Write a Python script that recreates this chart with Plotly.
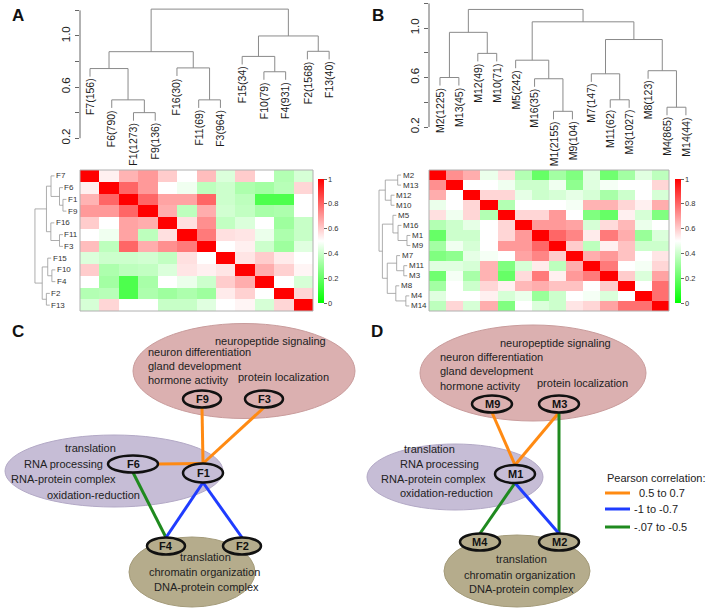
import plotly.graph_objects as go

W, H = 709, 615
FONT = "Liberation Sans, Arial, Helvetica, sans-serif"
TXT = "#222222"

# ---------------- data: panel A ----------------
modules_A = ["F7", "F6", "F1", "F9", "F16", "F11", "F3", "F15", "F10", "F4", "F2", "F13"]
sizes_A = [156, 790, 1273, 136, 30, 69, 964, 34, 79, 931, 1568, 40]
# (left, right, height); ints refer to earlier merges
merges_A = [("F1", "F9", 0.40), ("F6", 0, 0.50), ("F7", 1, 0.745), ("F11", "F3", 0.50),
            ("F16", 3, 0.75), (2, 4, 0.877), ("F10", "F4", 0.72), ("F15", 6, 0.84),
            ("F2", "F13", 0.88), (7, 8, 1.00), (5, 9, 1.21)]
corr_A = [
    [1.00, 0.53, 0.65, 0.70, 0.60, 0.50, 0.63, 0.43, 0.60, 0.50, 0.35, 0.42],
    [0.53, 1.00, 0.80, 0.70, 0.50, 0.47, 0.37, 0.40, 0.34, 0.32, 0.36, 0.58],
    [0.65, 0.80, 1.00, 0.80, 0.68, 0.68, 0.80, 0.40, 0.37, 0.15, 0.15, 0.50],
    [0.70, 0.70, 0.80, 1.00, 0.66, 0.37, 0.66, 0.41, 0.38, 0.33, 0.34, 0.50],
    [0.60, 0.50, 0.68, 0.66, 1.00, 0.56, 0.72, 0.38, 0.43, 0.50, 0.31, 0.39],
    [0.50, 0.47, 0.68, 0.37, 0.56, 1.00, 0.76, 0.56, 0.55, 0.46, 0.34, 0.39],
    [0.63, 0.37, 0.80, 0.66, 0.72, 0.76, 1.00, 0.50, 0.53, 0.40, 0.31, 0.44],
    [0.43, 0.40, 0.40, 0.41, 0.38, 0.56, 0.50, 1.00, 0.55, 0.60, 0.54, 0.50],
    [0.60, 0.34, 0.37, 0.38, 0.43, 0.55, 0.53, 0.55, 1.00, 0.66, 0.59, 0.52],
    [0.50, 0.32, 0.15, 0.33, 0.50, 0.46, 0.40, 0.60, 0.66, 1.00, 0.50, 0.42],
    [0.35, 0.36, 0.15, 0.34, 0.31, 0.34, 0.31, 0.54, 0.59, 0.50, 1.00, 0.58],
    [0.42, 0.58, 0.50, 0.50, 0.39, 0.39, 0.44, 0.50, 0.52, 0.42, 0.58, 1.00],
]

# ---------------- data: panel B ----------------
modules_B = ["M2", "M13", "M12", "M10", "M5", "M16", "M1", "M9", "M7", "M11", "M3", "M8", "M4", "M14"]
sizes_B = [1225, 45, 49, 71, 242, 35, 2155, 104, 147, 62, 1027, 123, 865, 44]
merges_B = [("M2", "M13", 0.60), ("M12", "M10", 0.795), (0, 1, 0.965), ("M1", "M9", 0.327),
            ("M16", 3, 0.59), ("M5", 4, 0.74), ("M11", "M3", 0.42), ("M7", 6, 0.63),
            ("M4", "M14", 0.36), ("M8", 8, 0.655), (7, 9, 0.907), (5, 10, 1.05), (2, 11, 1.15)]
corr_B = [
    [1.00, 0.72, 0.66, 0.46, 0.56, 0.35, 0.20, 0.32, 0.25, 0.44, 0.22, 0.32, 0.44, 0.37],
    [0.72, 1.00, 0.50, 0.50, 0.47, 0.40, 0.40, 0.47, 0.28, 0.44, 0.48, 0.50, 0.50, 0.58],
    [0.66, 0.50, 1.00, 0.58, 0.58, 0.45, 0.40, 0.42, 0.45, 0.42, 0.33, 0.40, 0.50, 0.42],
    [0.46, 0.50, 0.58, 1.00, 0.35, 0.50, 0.50, 0.50, 0.48, 0.65, 0.65, 0.58, 0.53, 0.66],
    [0.56, 0.47, 0.58, 0.35, 1.00, 0.58, 0.58, 0.70, 0.50, 0.25, 0.20, 0.53, 0.42, 0.25],
    [0.35, 0.40, 0.45, 0.50, 0.58, 1.00, 0.70, 0.70, 0.68, 0.42, 0.57, 0.64, 0.46, 0.50],
    [0.20, 0.40, 0.40, 0.50, 0.58, 0.70, 1.00, 0.80, 0.74, 0.54, 0.76, 0.66, 0.30, 0.43],
    [0.32, 0.47, 0.42, 0.50, 0.70, 0.70, 0.80, 1.00, 0.60, 0.37, 0.53, 0.62, 0.40, 0.40],
    [0.25, 0.28, 0.45, 0.48, 0.50, 0.68, 0.74, 0.60, 1.00, 0.66, 0.70, 0.62, 0.50, 0.55],
    [0.44, 0.44, 0.42, 0.65, 0.25, 0.42, 0.54, 0.37, 0.66, 1.00, 0.76, 0.50, 0.48, 0.58],
    [0.22, 0.48, 0.33, 0.65, 0.20, 0.57, 0.76, 0.53, 0.70, 0.76, 1.00, 0.60, 0.43, 0.68],
    [0.32, 0.50, 0.40, 0.58, 0.53, 0.64, 0.66, 0.62, 0.62, 0.50, 0.60, 1.00, 0.50, 0.78],
    [0.44, 0.50, 0.50, 0.53, 0.42, 0.46, 0.30, 0.40, 0.50, 0.48, 0.43, 0.50, 1.00, 0.78],
    [0.37, 0.58, 0.42, 0.66, 0.25, 0.50, 0.43, 0.40, 0.55, 0.58, 0.68, 0.78, 0.78, 1.00],
]
scale_ticks = [0, 0.2, 0.4, 0.6, 0.8, 1]
dendro_ticks = [0.2, 0.6, 1.0]
dendro_minor = [0.4, 0.8, 1.2]

# ---------------- data: panels C / D ----------------
terms_top = ["neuropeptide signaling", "neuron differentiation", "gland development",
             "hormone activity", "protein localization"]
terms_mid = ["translation", "RNA processing", "RNA-protein complex", "oxidation-reduction"]
terms_bot = ["translation", "chromatin organization", "DNA-protein complex"]
corr_classes = ["0.5 to 0.7", "-1 to -0.7", "-.07 to -0.5"]
class_colors = ["#ff8a12", "#1f3cff", "#1f8a1f"]
edges_C = [("F9", "F1", 0), ("F3", "F1", 0), ("F6", "F1", 0), ("F6", "F4", 2), ("F1", "F4", 1), ("F1", "F2", 1)]
edges_D = [("M9", "M1", 0), ("M3", "M1", 0), ("M3", "M2", 2), ("M1", "M4", 2), ("M1", "M2", 1)]

# ---------------- diagram geometry (pixels) ----------------
region_style = {"pink": ("#dbb0b0", "#c99c9c"), "purple": ("#c6bdd6", "#b3a9c6"), "olive": ("#b5ac8c", "#a49b7a")}
regions_C = [("pink", 244, 371, 111, 47.5), ("purple", 114, 471, 109, 36), ("olive", 192, 572, 63, 35)]
regions_D = [("pink", 533, 373, 113, 48), ("purple", 455, 477, 88, 33), ("olive", 517, 571, 73, 36)]
nodes_C = {"F9": (202, 399, 19, 8.5, "pink"), "F3": (264, 399, 19, 8.5, "pink"),
           "F6": (133, 464, 25, 8.5, "purple"), "F1": (203, 473, 20, 9.5, "purple"),
           "F4": (166, 546, 19, 8.5, "olive"), "F2": (242, 546, 19, 8.5, "olive")}
nodes_D = {"M9": (492, 404, 20, 8.5, "pink"), "M3": (559, 404, 20, 8.5, "pink"),
           "M1": (515, 474, 20, 9, "purple"), "M4": (480, 542, 20, 8.5, "olive"),
           "M2": (559, 542, 20, 8.5, "olive")}
text_C = [(terms_top[0], 214, 341), (terms_top[1], 147, 352), (terms_top[2], 147, 366),
          (terms_top[3], 147, 380), (terms_top[4], 237, 377),
          (terms_mid[0], 64, 448), (terms_mid[1], 23, 464), (terms_mid[2], 10, 479), (terms_mid[3], 46, 495),
          (terms_bot[0], 179, 557), (terms_bot[1], 148, 572), (terms_bot[2], 153, 587)]
text_D = [(terms_top[0], 499, 343), (terms_top[1], 439, 357), (terms_top[2], 439, 371),
          (terms_top[3], 439, 386), (terms_top[4], 536, 383),
          (terms_mid[0], 403, 449), (terms_mid[1], 399, 464), (terms_mid[2], 380, 479), (terms_mid[3], 399, 493),
          (terms_bot[0], 495, 559), (terms_bot[1], 463, 575), (terms_bot[2], 468, 589)]


def px_x(p):
    return p / W


def px_y(p):
    return 1 - p / H


def dendro(leaves, merges, hang):
    pos = {n: i for i, n in enumerate(leaves)}
    mx, mh, xs, hs, ends = [], [], [], [], {}
    for a, b, h in merges:
        pts = []
        for ref in (a, b):
            if isinstance(ref, str):
                pts.append((pos[ref], h - hang))
                ends[ref] = h - hang
            else:
                pts.append((mx[ref], mh[ref]))
        (xa, ha), (xb, hb) = pts
        xs += [xa, xa, xb, xb, None]
        hs += [ha, h, h, hb, None]
        mx.append((xa + xb) / 2)
        mh.append(h)
    return xs, hs, ends


colorscale = [[0, "rgb(0,255,0)"], [0.5, "rgb(255,255,255)"], [1, "rgb(255,0,0)"]]
fig = go.Figure()
annotations = []
shapes = []
DGRAY = "#8a8a8a"

panels = [
    dict(mods=modules_A, sizes=sizes_A, merges=merges_A, corr=corr_A, hx="x", hy="y",
         dx="x3", dy="y3", rx="x5", cbx=318, hang_top=0.063, hang_row=0.10),
    dict(mods=modules_B, sizes=sizes_B, merges=merges_B, corr=corr_B, hx="x2", hy="y2",
         dx="x4", dy="y4", rx="x6", cbx=675, hang_top=0.065, hang_row=0.10),
]

for P in panels:
    n = len(P["mods"])
    fig.add_trace(go.Heatmap(
        z=P["corr"], x=list(range(n)), y=list(range(n)), zmin=0, zmax=1,
        colorscale=colorscale, xaxis=P["hx"], yaxis=P["hy"], hoverinfo="skip",
        xgap=0, ygap=0,
        colorbar=dict(x=px_x(P["cbx"]), xanchor="left", y=px_y(241), yanchor="middle",
                      len=124, lenmode="pixels", thickness=6, thicknessmode="pixels",
                      outlinewidth=0, xpad=0, ypad=0, tickmode="array", tickvals=scale_ticks,
                      ticktext=[f"{v:g}" for v in scale_ticks], ticks="outside", ticklen=3,
                      tickwidth=1, tickcolor="#666", tickfont=dict(size=7.5, color="#333", family=FONT)),
    ))
    shapes.append(dict(type="rect", xref=P["hx"] + " domain", yref=P["hy"] + " domain",
                       x0=0, x1=1, y0=0, y1=1, line=dict(color="#b0b0b0", width=1)))
    # top dendrogram
    xs, hs, ends = dendro(P["mods"], P["merges"], P["hang_top"])
    fig.add_trace(go.Scatter(x=xs, y=hs, mode="lines", line=dict(color=DGRAY, width=1),
                             xaxis=P["dx"], yaxis=P["dy"], hoverinfo="skip", showlegend=False))
    for i, (m, s) in enumerate(zip(P["mods"], P["sizes"])):
        annotations.append(dict(xref=P["dx"], yref=P["dy"], x=i, y=ends[m], text=f"{m}({s})",
                                textangle=-90, xanchor="center", yanchor="top", yshift=-1,
                                showarrow=False, borderpad=0,
                                font=dict(size=10.5, color="#1a1a1a", family=FONT)))
    # row dendrogram
    xs, hs, ends = dendro(P["mods"], P["merges"], P["hang_row"])
    fig.add_trace(go.Scatter(x=hs, y=xs, mode="lines", line=dict(color="#999", width=0.8),
                             xaxis=P["rx"], yaxis=P["hy"], hoverinfo="skip", showlegend=False))
    for i, m in enumerate(P["mods"]):
        annotations.append(dict(xref=P["rx"], yref=P["hy"], x=ends[m], y=i, text=m,
                                xanchor="left", yanchor="middle", xshift=0.5, showarrow=False,
                                borderpad=0, font=dict(size=8, color="#333", family=FONT)))
    # dendrogram axis line
    shapes.append(dict(type="line", xref=P["dx"] + " domain", yref=P["dy"], x0=0, x1=0,
                       y0=dendro_ticks[0], y1=dendro_minor[-1], line=dict(color="#666", width=1)))


def port(node, side):
    cx, cy, rx, ry, _ = node
    return {"top": (cx, cy - ry), "bottom": (cx, cy + ry), "right": (cx + rx, cy), "left": (cx - rx, cy)}[side]


for regions, nodes, edges, texts in [(regions_C, nodes_C, edges_C, text_C), (regions_D, nodes_D, edges_D, text_D)]:
    for key, cx, cy, rx, ry in regions:
        fc, lc = region_style[key]
        shapes.append(dict(type="circle", xref="x7", yref="y7", x0=cx - rx, x1=cx + rx,
                           y0=cy - ry, y1=cy + ry, fillcolor=fc, line=dict(color=lc, width=1), layer="below"))
    for a, b, c in edges:
        na, nb = nodes[a], nodes[b]
        if abs(nb[1] - na[1]) > 20:
            p0, p1 = port(na, "bottom"), port(nb, "top")
        else:
            p0, p1 = port(na, "right" if nb[0] > na[0] else "left"), port(nb, "top")
        fig.add_trace(go.Scatter(x=[p0[0], p1[0]], y=[p0[1], p1[1]], mode="lines",
                                 line=dict(color=class_colors[c], width=3), xaxis="x7", yaxis="y7",
                                 hoverinfo="skip", showlegend=False))
    for name, (cx, cy, rx, ry, key) in nodes.items():
        shapes.append(dict(type="circle", xref="x7", yref="y7", x0=cx - rx, x1=cx + rx,
                           y0=cy - ry, y1=cy + ry, fillcolor=region_style[key][0],
                           line=dict(color="#111", width=2.5), layer="above"))
        annotations.append(dict(xref="x7", yref="y7", x=cx, y=cy, text=f"<b>{name}</b>",
                                showarrow=False, xanchor="center", yanchor="middle",
                                font=dict(size=11, color="#111", family=FONT)))
    for t, x, y in texts:
        annotations.append(dict(xref="x7", yref="y7", x=x, y=y, text=t, showarrow=False,
                                xanchor="left", yanchor="middle", borderpad=0,
                                font=dict(size=11, color=TXT, family=FONT)))

# legend
annotations.append(dict(xref="x7", yref="y7", x=605, y=478, text="Pearson correlation:", showarrow=False,
                        xanchor="left", yanchor="middle", font=dict(size=11, color=TXT, family=FONT)))
for k, (lab, col, ly) in enumerate(zip(corr_classes, class_colors, [493, 509, 527])):
    fig.add_trace(go.Scatter(x=[605, 630], y=[ly, ly], mode="lines", line=dict(color=col, width=3),
                             xaxis="x7", yaxis="y7", hoverinfo="skip", showlegend=False))
    annotations.append(dict(xref="x7", yref="y7", x=637 if k == 0 else 632, y=ly, text=lab,
                            showarrow=False, xanchor="left", yanchor="middle",
                            font=dict(size=11, color=TXT, family=FONT)))

# panel letters
for L, x, y in [("A", 18, 15), ("B", 378, 15), ("C", 18, 331), ("D", 377, 331)]:
    annotations.append(dict(xref="paper", yref="paper", x=px_x(x), y=px_y(y), text=f"<b>{L}</b>",
                            showarrow=False, xanchor="center", yanchor="middle",
                            font=dict(size=17, color="#111", family=FONT)))

hidden = dict(visible=False, showgrid=False, zeroline=False)
dend_y = dict(tickmode="array", tickvals=dendro_ticks, ticktext=[f"{v:.1f}" for v in dendro_ticks],
              tickangle=-90, ticks="outside", ticklen=4, tickcolor="#666",
              tickfont=dict(size=11.5, color="#222", family=FONT), showgrid=False, zeroline=False,
              showline=False, minor=dict(tickvals=dendro_minor, ticks="outside", ticklen=4,
                                         tickcolor="#666", showgrid=False))

fig.update_layout(
    width=W, height=H, margin=dict(l=0, r=0, t=0, b=0), autosize=False,
    paper_bgcolor="white", plot_bgcolor="rgba(0,0,0,0)", showlegend=False,
    font=dict(family=FONT, color=TXT),
    xaxis=dict(domain=[px_x(80), px_x(313)], range=[-0.5, 11.5], anchor="y", **hidden),
    yaxis=dict(domain=[px_y(311), px_y(170)], range=[11.5, -0.5], anchor="x", **hidden),
    xaxis2=dict(domain=[px_x(429), px_x(669)], range=[-0.5, 13.5], anchor="y2", **hidden),
    yaxis2=dict(domain=[px_y(311), px_y(170)], range=[13.5, -0.5], anchor="x2", **hidden),
    xaxis3=dict(domain=[px_x(80), px_x(340)], range=[-0.46, 11.5], anchor="y3", **hidden),
    yaxis3=dict(domain=[px_y(151), px_y(4)], range=[0.1, 1.25], anchor="x3", **dend_y),
    xaxis4=dict(domain=[px_x(429), px_x(695)], range=[-0.58, 13.48], anchor="y4", **hidden),
    yaxis4=dict(domain=[px_y(139.4), px_y(3.25)], range=[0.1, 1.2], anchor="x4", **dend_y),
    xaxis5=dict(domain=[px_x(30), px_x(78)], range=[1.353, -0.035], anchor="y", **hidden),
    xaxis6=dict(domain=[px_x(372), px_x(424)], range=[1.356, -0.174], anchor="y2", **hidden),
    xaxis7=dict(domain=[0, 1], range=[0, W], anchor="y7", **hidden),
    yaxis7=dict(domain=[0, 1], range=[H, 0], anchor="x7", **hidden),
    shapes=shapes, annotations=annotations,
)

fig.write_html("out.html", config={"displayModeBar": False, "staticPlot": True},
               post_script="document.body.style.margin='0';document.body.style.overflow='hidden';")
